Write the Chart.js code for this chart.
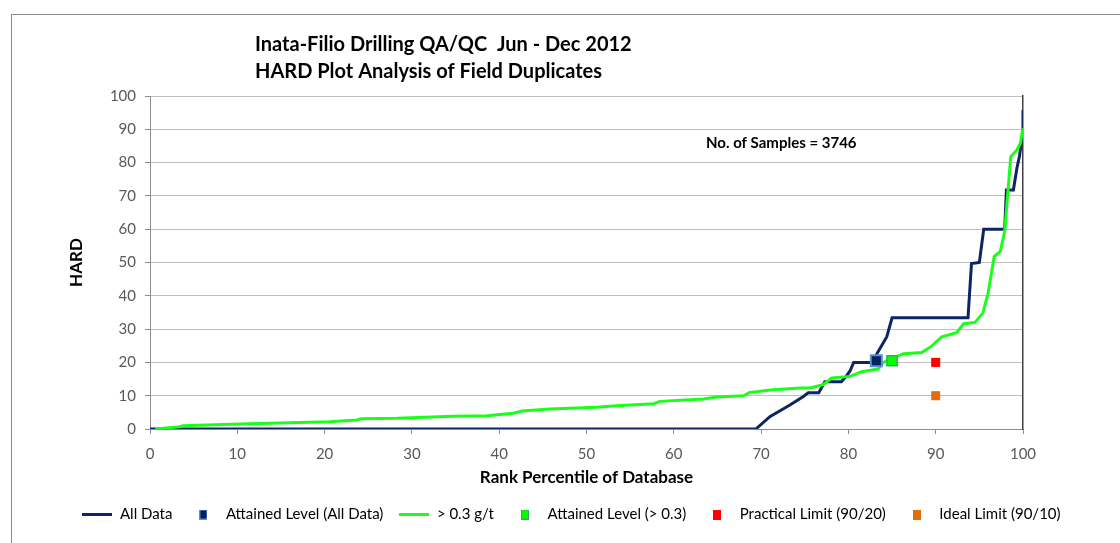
<!DOCTYPE html>
<html>
<head>
<meta charset="utf-8">
<script src="https://cdn.jsdelivr.net/npm/chart.js@4.4.0/dist/chart.umd.min.js"></script>
<style>
  html, body { margin: 0; padding: 0; background: #fff; }
</style>
</head>
<body>
<canvas id="hardChart" width="1120" height="543"></canvas>
<script>
// All Data curve (rank percentile vs HARD)
const allDataX = [0, 69.4, 71.0, 73.3, 74.8, 75.4, 76.6, 77.3, 79.2, 79.8, 80.2, 80.6, 82.7, 83.4, 84.4, 85.0, 93.7, 94.1, 95.0, 95.5, 97.9, 98.1, 98.9, 99.3, 99.6, 99.8, 100, 100];
const allDataY = [0, 0, 3.7, 7.2, 9.7, 10.9, 10.9, 14.2, 14.2, 16.0, 17.5, 20, 20, 23.2, 27.7, 33.4, 33.4, 49.7, 50, 60, 60, 71.8, 71.8, 78.3, 82, 85.8, 87, 95.8];

// > 0.3 g/t curve
const above03X = [0.6, 3.4, 3.8, 10.3, 16.0, 20.6, 23.7, 24.2, 28.3, 34.7, 38.6, 41.6, 42.6, 45.8, 51.2, 53.4, 57.7, 58.4, 63.4, 64.9, 68.0, 68.7, 71.4, 74.5, 75.6, 77.1, 78.1, 80.2, 81.5, 83.4, 84.0, 86.3, 88.4, 89.5, 90.7, 92.4, 93.2, 94.5, 95.4, 96.0, 96.7, 97.4, 97.9, 98.6, 99.3, 99.7, 100];
const above03Y = [0, 0.7, 1.0, 1.5, 1.9, 2.2, 2.7, 3.1, 3.2, 3.8, 4.0, 4.7, 5.4, 6.0, 6.5, 7.0, 7.6, 8.3, 9.0, 9.6, 10.0, 11.0, 11.8, 12.3, 12.3, 13.3, 15.3, 15.8, 17.2, 18.0, 20.0, 22.6, 23.0, 24.8, 27.7, 28.9, 31.6, 32.0, 34.8, 40.8, 51.8, 53.3, 59.3, 81.8, 83.8, 85.8, 90.3];

// single points [x, y]
const attainedAll = [83.2, 20.5];
const attainedAbove = [85.0, 20.5];
const practicalLimit = [90, 20];
const idealLimit = [90, 10];

const seriesNames = ['All Data', 'Attained Level (All Data)', '> 0.3 g/t', 'Attained Level (> 0.3)', 'Practical Limit (90/20)', 'Ideal Limit (90/10)'];
const titleLines = ['Inata-Filio Drilling QA/QC  Jun - Dec 2012', 'HARD Plot Analysis of Field Duplicates'];
const sampleNote = 'No. of Samples = 3746';

const NAVY = '#0e2565';
const LIME = '#19ff19';
const FONT = 'Lato';

function toPoints(xs, ys) {
  return xs.map((x, i) => ({ x: x, y: ys[i] }));
}

function lineIcon(color) {
  const c = document.createElement('canvas');
  c.width = 30; c.height = 3;
  const g = c.getContext('2d');
  g.fillStyle = color;
  g.fillRect(0, 0, 30, 3);
  return c;
}
function boxIcon(color, edge) {
  const c = document.createElement('canvas');
  c.width = 8; c.height = 10;
  const g = c.getContext('2d');
  g.fillStyle = edge || color;
  g.fillRect(0, 0, 8, 10);
  g.fillStyle = color;
  g.fillRect(1, 1, 6, 8);
  return c;
}
const legendIcons = [
  lineIcon(NAVY),
  boxIcon('#002060', '#5b8fd0'),
  lineIcon(LIME),
  boxIcon('#00ff00', '#2fb24a'),
  boxIcon('#ff0000'),
  boxIcon('#e46c0a')
];

const backdrop = {
  id: 'backdrop',
  beforeDraw(chart) {
    const ctx = chart.ctx;
    ctx.save();
    ctx.fillStyle = '#fff';
    ctx.fillRect(0, 0, chart.width, chart.height);
    ctx.strokeStyle = '#8c8c8c';
    ctx.lineWidth = 1;
    ctx.strokeRect(11.5, 14.5, 1200, 600);
    ctx.restore();
  },
  afterDraw(chart) {
    const ctx = chart.ctx;
    ctx.save();
    ctx.fillStyle = '#000';
    ctx.textBaseline = 'middle';
    ctx.textAlign = 'left';
    ctx.font = 'bold 20px ' + FONT;
    ctx.fillText(titleLines[0], 255, 45);
    ctx.fillText(titleLines[1], 255, 72);
    ctx.font = 'bold 15px ' + FONT;
    ctx.fillText(sampleNote, 706, 143);
    ctx.restore();
  }
};

new Chart(document.getElementById('hardChart'), {
  type: 'line',
  data: {
    datasets: [
      {
        label: seriesNames[0],
        data: toPoints(allDataX, allDataY),
        borderColor: NAVY,
        backgroundColor: NAVY,
        borderWidth: 3,
        pointRadius: 0,
        tension: 0,
        order: 3
      },
      {
        label: seriesNames[1],
        data: [{ x: attainedAll[0], y: attainedAll[1] }],
        showLine: false,
        pointStyle: 'rect',
        pointRadius: 7.8,
        backgroundColor: '#002060',
        borderColor: '#5b8fd0',
        borderWidth: 2,
        order: 1
      },
      {
        label: seriesNames[2],
        data: toPoints(above03X, above03Y),
        borderColor: LIME,
        backgroundColor: LIME,
        borderWidth: 3,
        pointRadius: 0,
        tension: 0,
        order: 2
      },
      {
        label: seriesNames[3],
        data: [{ x: attainedAbove[0], y: attainedAbove[1] }],
        showLine: false,
        pointStyle: 'rect',
        pointRadius: 7.2,
        backgroundColor: '#00ff00',
        borderColor: '#2fb24a',
        borderWidth: 1.5,
        order: 1
      },
      {
        label: seriesNames[4],
        data: [{ x: practicalLimit[0], y: practicalLimit[1] }],
        showLine: false,
        pointStyle: 'rect',
        pointRadius: 6.4,
        backgroundColor: '#ff0000',
        borderColor: '#ff0000',
        borderWidth: 0,
        order: 1
      },
      {
        label: seriesNames[5],
        data: [{ x: idealLimit[0], y: idealLimit[1] }],
        showLine: false,
        pointStyle: 'rect',
        pointRadius: 6.4,
        backgroundColor: '#e46c0a',
        borderColor: '#e46c0a',
        borderWidth: 0,
        order: 1
      }
    ]
  },
  options: {
    responsive: false,
    animation: false,
    layout: { padding: { top: 96, right: 0, bottom: 11, left: 23 } },
    scales: {
      x: {
        type: 'linear',
        min: 0,
        max: 100,
        afterFit: s => { s.height = 62; },
        ticks: { stepSize: 10, padding: 11, color: '#595959', font: { family: FONT, size: 15 }, maxRotation: 0 },
        grid: { drawOnChartArea: false, drawTicks: true, tickLength: 5, color: '#8c8c8c' },
        border: { color: '#8c8c8c' },
        title: { display: true, text: 'Rank Percentile of Database', color: '#000', font: { family: FONT, size: 17, weight: 'bold' }, padding: { top: 0, bottom: 3 } }
      },
      y: {
        min: 0,
        max: 100,
        afterFit: s => { s.width = 127; },
        ticks: { stepSize: 10, padding: 9, color: '#595959', font: { family: FONT, size: 15 } },
        grid: { color: '#c0c0c0', tickLength: 5, tickColor: '#8c8c8c' },
        border: { color: '#8c8c8c' },
        title: { display: true, text: 'HARD', color: '#000', font: { family: FONT, size: 17, weight: 'bold' }, padding: { top: 43, bottom: 0 } }
      },
      yRight: {
        position: 'right',
        min: 0,
        max: 100,
        afterFit: s => { s.width = 97; },
        ticks: { display: false },
        grid: { display: false },
        border: { display: true, color: '#404040', width: 1.5 }
      }
    },
    plugins: {
      legend: {
        position: 'bottom',
        labels: {
          usePointStyle: true,
          pointStyleWidth: 30,
          padding: 16,
          color: '#000',
          font: { family: FONT, size: 15 },
          sort: (a, b) => a.datasetIndex - b.datasetIndex,
          generateLabels(chart) {
            const items = Chart.defaults.plugins.legend.labels.generateLabels(chart);
            items.forEach(it => { it.pointStyle = legendIcons[it.datasetIndex]; });
            return items;
          }
        }
      },
      tooltip: { enabled: false }
    }
  },
  plugins: [backdrop]
});
</script>
</body>
</html>
